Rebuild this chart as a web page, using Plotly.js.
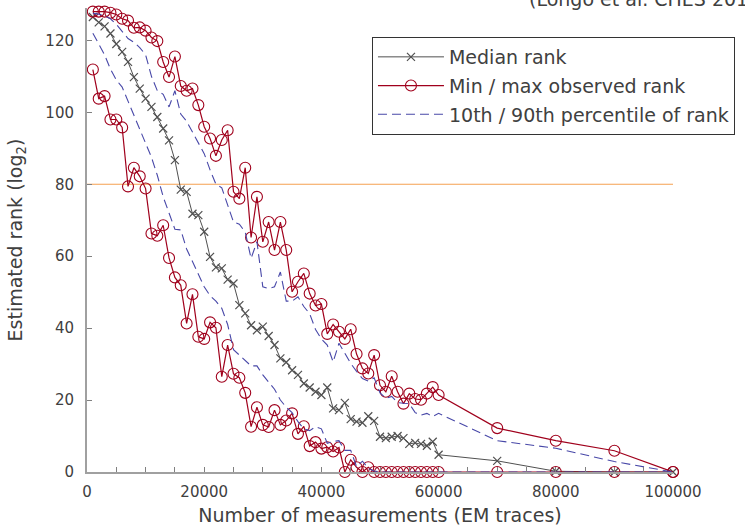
<!DOCTYPE html>
<html>
<head>
<meta charset="utf-8">
<script src="https://cdn.plot.ly/plotly-3.0.1.min.js"></script>
<style>html,body{margin:0;padding:0;background:#fff;}#chart{width:745px;height:526px;}</style>
</head>
<body>
<div id="chart"></div>
<script>
var traces = [1000,2000,3000,4000,5000,6000,7000,8000,9000,10000,
  11000,12000,13000,14000,15000,16000,17000,18000,19000,20000,
  21000,22000,23000,24000,25000,26000,27000,28000,29000,30000,
  31000,32000,33000,34000,35000,36000,37000,38000,39000,40000,
  41000,42000,43000,44000,45000,46000,47000,48000,49000,50000,
  51000,52000,53000,54000,55000,56000,57000,58000,59000,60000,
  70000,80000,90000,100000];

var medianRank = [126.5,125,123.9,121.9,119,116.8,114,109.8,106.6,103.8,
  101.5,98.7,95.5,92.2,86.7,78.5,77.9,71.8,71.4,66.8,
  59.8,56.9,56.6,53.5,52.4,46.4,44.1,40.8,39.4,40.4,
  37.8,35.3,31.6,30.5,28.3,27,24.6,23.5,22.3,21.4,
  23.5,17.7,17.2,19.2,14.7,14,13.7,15.5,14.2,9.8,
  9.4,9.8,10,9.4,7.8,8.1,7.8,7.3,8.4,4.8,
  3.1,0.2,0,0];

var maxRank = [128,128,128,127.7,127.2,126,125.5,123.5,123.6,122.7,
  120.8,119.8,114,109.8,115.5,107.3,106,106.6,102,96,
  92.7,87.9,92.3,95,77.9,76,84.6,65.2,76.5,64,
  69.5,61.7,69.5,61.7,50.1,52.9,55.2,49.6,46.3,46.7,
  38.4,41,39,37,39.7,32.8,28.8,27.4,32.5,24.1,
  22.3,26.6,22.3,19,21.8,20.3,20.1,21.8,23.6,21.4,
  12.2,8.7,5.9,0];

var minRank = [111.9,103.8,104.5,98,98,95.8,79.4,84.6,82.2,78.8,
  66.3,65.7,68.6,59.5,54.1,51.9,41.3,49.4,37.6,37,
  41.6,40.1,26.5,35.3,27.3,26.2,22,12.6,18,13.1,
  12.5,17.2,13.1,14.3,16.3,10.6,12.7,7.2,8.3,6.5,
  6.9,5.7,6.8,0,3.4,1.3,0,1.3,0,0,
  0,0,0,0,0,0,0,0,0,0,
  0,0,0,0];

var p90Rank = [127.5,127.3,126.8,126,124.5,122.5,120.5,119.5,118,116,
  110,106,105,101.5,106,99.5,97.5,94.5,91.5,88.5,
  84,80,79,74.5,69.5,68.9,66.7,59.4,64,51.5,
  51,51.5,55.6,47.5,47.5,48.7,46,44,39.6,37,
  35.3,30.6,35.8,33,30.2,28,26,25.3,26.2,22,
  20.5,21,19.3,19.1,19,16.5,15.8,16.3,15.4,16.3,
  8.7,6.6,2.9,0];

var p10Rank = [122,119,116,112,109,107,103,99,95,91,
  87.5,82.5,76.5,72,67.5,67.3,62,58.5,55,51.5,
  49,47.5,45.5,41,34,32.5,31,29.5,29.5,27,
  25,23,20,18,16.5,14,12,11.5,12.6,12,
  8,8.5,8.7,6,6,1.5,3,1,0.3,0,
  0,0,0,0,0,0,0,0,0,0,
  0,0,0,0];

var thresholdRank = 80;
var xTicks = [0,20000,40000,60000,80000,100000];
var yTicks = [0,20,40,60,80,100,120];

var red = '#a0001c';
var blue = '#4848a8';
var grey = '#505050';

var data = [
  {x: traces, y: medianRank, type: 'scatter', mode: 'lines+markers', name: 'Median rank',
   legendgroup: 'a', cliponaxis: false,
   line: {color: grey, width: 1},
   marker: {symbol: 'x-thin', size: 8, line: {color: grey, width: 1.2}, color: grey}},
  {x: traces, y: minRank, type: 'scatter', mode: 'lines+markers', name: 'Min / max observed rank',
   legendgroup: 'b', cliponaxis: false,
   line: {color: red, width: 1.2},
   marker: {symbol: 'circle-open', size: 11, line: {color: red, width: 1.1}, color: red}},
  {x: traces, y: maxRank, type: 'scatter', mode: 'lines+markers', name: 'Min / max observed rank',
   legendgroup: 'b', showlegend: false, cliponaxis: false,
   line: {color: red, width: 1.2},
   marker: {symbol: 'circle-open', size: 11, line: {color: red, width: 1.1}, color: red}},
  {x: traces, y: p10Rank, type: 'scatter', mode: 'lines', name: '10th / 90th percentile of rank',
   legendgroup: 'c', cliponaxis: false,
   line: {color: blue, width: 1.1, dash: '9px,5px'}},
  {x: traces, y: p90Rank, type: 'scatter', mode: 'lines', name: '10th / 90th percentile of rank',
   legendgroup: 'c', showlegend: false, cliponaxis: false,
   line: {color: blue, width: 1.1, dash: '9px,5px'}}
];

var layout = {
  width: 745, height: 526,
  margin: {l: 87, r: 72, t: 8, b: 54},
  paper_bgcolor: '#fff', plot_bgcolor: '#fff',
  font: {family: 'DejaVu Sans', color: '#404040', size: 15},
  showlegend: true,
  legend: {
    x: 0.4863, y: 0.9375, xanchor: 'left', yanchor: 'top',
    bordercolor: '#333', borderwidth: 1, bgcolor: '#fff',
    font: {family: 'DejaVu Sans', size: 19, color: '#404040'},
    itemwidth: 66, traceorder: 'grouped', tracegroupgap: 1
  },
  xaxis: {
    range: [0, 100000], tickvals: xTicks, ticktext: xTicks.map(String),
    showline: true, linecolor: '#a0a0a0', linewidth: 2,
    ticks: 'inside', ticklen: 5, tickcolor: '#808080', tickwidth: 1,
    minor: {dtick: 5000, tick0: 0, ticks: 'inside', ticklen: 5, tickcolor: '#808080', tickwidth: 1},
    showgrid: false, zeroline: false,
    tickfont: {size: 15, color: '#404040'},
    ticklabelstandoff: 5,
    title: {text: 'Number of measurements (EM traces)', font: {size: 19, color: '#404040'}, standoff: 10}
  },
  yaxis: {
    range: [0, 129], tickvals: yTicks,
    showline: true, linecolor: '#a0a0a0', linewidth: 2,
    ticks: 'inside', ticklen: 5, tickcolor: '#808080', tickwidth: 1,
    showgrid: false, zeroline: false,
    tickfont: {size: 15, color: '#404040'},
    ticklabelstandoff: 8,
    title: {text: 'Estimated rank (log<sub>2</sub>)', font: {size: 19, color: '#404040'}, standoff: 18}
  },
  shapes: [
    {type: 'line', xref: 'x', yref: 'y', x0: 0, x1: 100000, y0: thresholdRank, y1: thresholdRank,
     line: {color: '#f5a050', width: 1.2}, layer: 'below'}
  ],
  annotations: [
    {text: '(Longo et al. CHES 2015)', xref: 'paper', yref: 'paper', x: 0.751, y: 0.9914,
     xanchor: 'left', yanchor: 'bottom', showarrow: false,
     font: {family: 'DejaVu Sans', size: 19, color: '#404040'}}
  ]
};

Plotly.newPlot('chart', data, layout, {displayModeBar: false, staticPlot: true});
</script>
</body>
</html>
